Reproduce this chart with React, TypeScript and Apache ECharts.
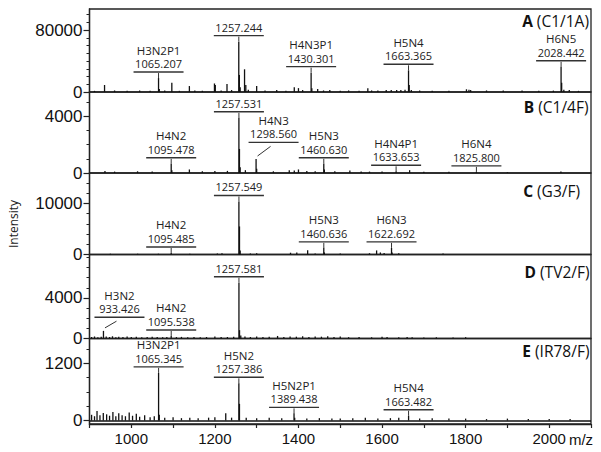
import React, { useEffect, useRef } from 'react';
import * as echarts from 'echarts';

// ---------- data ----------
const MZ_MIN = 900;
const MZ_MAX = 2100;
const X_LABELS = [1000, 1200, 1400, 1600, 1800, 2000];

const PANEL_LETTERS = ['A', 'B', 'C', 'D', 'E'];
const PANEL_SAMPLES = ['(C1/1A)', '(C1/4F)', '(G3/F)', '(TV2/F)', '(IR78/F)'];

const Y_MIN = [0, 0, 0, 0, -73];
const Y_MAX = [107100, 5724, 15980, 8276, 1720];
const Y_TICKS_A = [0, 10000, 20000, 30000, 40000, 50000, 60000, 70000, 80000, 90000, 100000];
const Y_TICKS_B = [0, 1000, 2000, 3000, 4000, 5000];
const Y_TICKS_C = [0, 2000, 4000, 6000, 8000, 10000, 12000, 14000];
const Y_TICKS_D = [0, 1000, 2000, 3000, 4000, 5000, 6000, 7000, 8000];
const Y_TICKS_E = [0, 300, 600, 900, 1200, 1500];
const Y_LABELS_A = [0, 80000];
const Y_LABELS_B = [0, 4000];
const Y_LABELS_C = [0, 10000];
const Y_LABELS_D = [0, 4000];
const Y_LABELS_E = [0, 1200];

// peaks: [m/z, intensity]
const PEAKS_A = [
  [912, 1500], [936, 9000], [960, 2000], [990, 1500], [1020, 1800], [1045, 1500],
  [1065.2, 18000], [1067, 4000], [1080, 1800], [1097, 12000], [1115, 1500], [1139, 7700],
  [1152, 2000], [1170, 1500], [1199, 11000], [1201, 9000], [1215, 2000], [1229, 10300],
  [1240, 2500], [1257.2, 65000], [1258.6, 22000], [1260.5, 6000], [1271, 29300], [1274, 9000],
  [1280, 3000], [1300, 7700], [1320, 2000], [1348, 2500], [1370, 1500], [1390, 6000],
  [1400, 5000], [1410, 2500], [1430.3, 25000], [1432, 5000], [1446, 4000], [1460, 2000],
  [1475, 2500], [1500, 1500], [1520, 2000], [1545, 1500], [1566, 4700], [1575, 2000],
  [1590, 1800], [1610, 2500], [1622, 2500], [1635, 2500], [1645, 2500], [1655, 2800],
  [1663.4, 28000], [1665, 9000], [1670, 2500], [1690, 2000], [1720, 1500], [1760, 1500],
  [1802, 3500], [1808, 3000], [1812, 2500], [1850, 2000], [1890, 1800], [1935, 2000],
  [1975, 1500], [2010, 1800], [2028.4, 32500], [2029.8, 12000], [2035, 3000], [2048, 2500],
  [2070, 1500],
];
const PEAKS_B = [
  [937, 150], [960, 100], [1015, 120], [1050, 100], [1095.5, 650], [1097, 200], [1139, 250],
  [1170, 120], [1200, 150], [1230, 150], [1257.5, 3900], [1258.8, 1700], [1260.5, 400],
  [1273, 200], [1298.6, 990], [1300, 300], [1340, 120], [1378, 200], [1390, 180], [1400, 250],
  [1420, 150], [1440, 120], [1460.6, 650], [1462, 250], [1487, 120], [1523, 180], [1550, 100],
  [1570, 100], [1600, 100], [1633.7, 120], [1666, 200], [1700, 80], [1760, 80], [1825.8, 80],
  [1900, 60], [2028, 100],
];
const PEAKS_C = [
  [950, 150], [1015, 150], [1065, 150], [1095.5, 300], [1140, 150], [1206, 200], [1217, 250],
  [1257.5, 10400], [1258.9, 5500], [1260.5, 800], [1285, 200], [1300, 250], [1381, 350],
  [1396, 400], [1422, 850], [1440, 200], [1460.6, 1300], [1462, 400], [1500, 200], [1570, 250],
  [1587, 800], [1596, 400], [1605, 300], [1622.7, 1300], [1624, 400], [1640, 250], [1746, 200],
];
const PEAKS_D = [
  [905, 150], [912, 200], [920, 120], [928, 180], [933.4, 750], [940, 200], [948, 150],
  [955, 220], [963, 130], [970, 180], [980, 150], [990, 200], [1000, 150], [1012, 180],
  [1025, 130], [1038, 160], [1050, 180], [1062, 150], [1075, 130], [1085, 160], [1095.5, 250],
  [1108, 140], [1120, 160], [1135, 130], [1150, 150], [1165, 120], [1180, 150], [1200, 200],
  [1215, 140], [1230, 150], [1245, 180], [1257.6, 5500], [1259, 820], [1262, 300], [1272, 200],
  [1285, 150], [1300, 200], [1315, 150], [1330, 180], [1350, 250], [1365, 150], [1380, 200],
  [1395, 180], [1410, 220], [1425, 160], [1440, 200], [1455, 180], [1470, 220], [1485, 150],
  [1500, 200], [1520, 130], [1545, 150], [1575, 120], [1600, 180], [1612, 150], [1640, 120],
  [1660, 150], [1672, 120], [1700, 100], [1730, 120], [1770, 100], [1800, 130],
];
const PEAKS_E = [
  [905, 120], [912, 90], [918, 200], [925, 110], [933, 160], [941, 130], [948, 100], [956, 180],
  [963, 90], [970, 150], [978, 110], [986, 90], [995, 170], [1003, 100], [1012, 140], [1020, 80],
  [1032, 110], [1045, 70], [1055, 90], [1065.3, 1000], [1067, 120], [1080, 60], [1100, 70],
  [1120, 50], [1140, 60], [1160, 50], [1185, 60], [1200, 70], [1226, 150], [1240, 60],
  [1257.4, 780], [1258.8, 350], [1275, 60], [1300, 50], [1330, 60], [1360, 50], [1389.4, 150],
  [1391, 60], [1420, 40], [1450, 50], [1480, 40], [1500, 40], [1530, 50], [1560, 60],
  [1590, 40], [1620, 50], [1640, 60], [1663.5, 100], [1690, 40], [1720, 50], [1760, 40],
  [1800, 40], [1850, 30], [1900, 40], [1950, 30], [2000, 30], [2050, 30],
];

// annotated peaks
const ANNOT_A = [
  { mz: 1065.207, name: 'H3N2P1', peak: 18000 },
  { mz: 1257.244, name: '', peak: 65000 },
  { mz: 1430.301, name: 'H4N3P1', peak: 25000 },
  { mz: 1663.365, name: 'H5N4', peak: 28000 },
  { mz: 2028.442, name: 'H6N5', peak: 32500 },
];
const ANNOT_B = [
  { mz: 1095.478, name: 'H4N2', peak: 650 },
  { mz: 1257.531, name: '', peak: 3900 },
  { mz: 1298.56, name: 'H4N3', peak: 990 },
  { mz: 1460.63, name: 'H5N3', peak: 650 },
  { mz: 1633.653, name: 'H4N4P1', peak: 120 },
  { mz: 1825.8, name: 'H6N4', peak: 80 },
];
const ANNOT_C = [
  { mz: 1095.485, name: 'H4N2', peak: 300 },
  { mz: 1257.549, name: '', peak: 10400 },
  { mz: 1460.636, name: 'H5N3', peak: 1300 },
  { mz: 1622.692, name: 'H6N3', peak: 1300 },
];
const ANNOT_D = [
  { mz: 933.426, name: 'H3N2', peak: 750 },
  { mz: 1095.538, name: 'H4N2', peak: 250 },
  { mz: 1257.581, name: '', peak: 5500 },
];
const ANNOT_E = [
  { mz: 1065.345, name: 'H3N2P1', peak: 1000 },
  { mz: 1257.386, name: 'H5N2', peak: 780 },
  { mz: 1389.438, name: 'H5N2P1', peak: 150 },
  { mz: 1663.482, name: 'H5N4', peak: 100 },
];

// ---------- layout ----------
const GRID_LEFT = 89.5;
const GRID_WIDTH = 501.5;
const GRID_TOPS = [9, 92, 173, 254.5, 338.5];
const GRID_HEIGHTS = [83, 81, 81.5, 84, 85.5];
const TITLE_Y = [21, 107, 190.5, 271.5, 351];
const TITLE_RIGHT = [589, 588.5, 580, 589.5, 589.5];
const TITLE_SIZE = 15.5;
const LABEL_GAP = 6;
// oblique leaders: [dx, lift] in px
const OBLIQUE: Record<string, [number, number]> = {
  '1298.560': [17.5, 16.6],
  '933.426': [16, 13.7],
};

const TICK_FONT = '"Liberation Sans", Arial, sans-serif';
const ANN_FONT = '"Open Sans", sans-serif';

const PEAKS = [PEAKS_A, PEAKS_B, PEAKS_C, PEAKS_D, PEAKS_E];
const ANNOTS = [ANNOT_A, ANNOT_B, ANNOT_C, ANNOT_D, ANNOT_E];
const Y_TICKS = [Y_TICKS_A, Y_TICKS_B, Y_TICKS_C, Y_TICKS_D, Y_TICKS_E];
const Y_LABELS = [Y_LABELS_A, Y_LABELS_B, Y_LABELS_C, Y_LABELS_D, Y_LABELS_E];

function stickRenderer(params: any, api: any) {
  const x = api.value(0);
  const y = api.value(1);
  const p0 = api.coord([x, 0]);
  const p1 = api.coord([x, y]);
  return {
    type: 'line',
    shape: { x1: p0[0], y1: p0[1], x2: p1[0], y2: p1[1] },
    style: { stroke: '#111', lineWidth: 1.3 },
  };
}

function annotRenderer(list: any[]) {
  return (params: any, api: any) => {
    const a = list[params.dataIndex];
    const label = a.mz.toFixed(3);
    const top = api.coord([a.mz, a.peak]);
    const off = OBLIQUE[label];
    const cx = top[0] + (off ? off[0] : 0);
    const by = top[1] - (off ? off[1] : LABEL_GAP);
    const children: any[] = [
      {
        type: 'line',
        shape: { x1: cx - 25, y1: by, x2: cx + 25, y2: by },
        style: { stroke: '#333', lineWidth: 1.4 },
      },
      {
        type: 'text',
        x: cx,
        y: by - 8.5,
        style: { text: label, fill: '#222', font: '11px ' + ANN_FONT, align: 'center', verticalAlign: 'middle', lineHeight: 12 },
      },
    ];
    if (a.name) {
      children.push({
        type: 'text',
        x: cx,
        y: by - 22,
        style: { text: a.name, fill: '#222', font: '11.5px ' + ANN_FONT, align: 'center', verticalAlign: 'middle', lineHeight: 12 },
      });
    }
    if (off) {
      children.push({
        type: 'line',
        shape: { x1: cx - 3, y1: by + 4, x2: top[0] + 1.5, y2: top[1] - 3 },
        style: { stroke: '#333', lineWidth: 1 },
      });
    } else if (top[1] - by > 1) {
      children.push({
        type: 'line',
        shape: { x1: cx, y1: by + 1, x2: cx, y2: top[1] },
        style: { stroke: '#333', lineWidth: 1 },
      });
    }
    return { type: 'group', children };
  };
}

function buildOption() {
  const grid: any[] = [];
  const xAxis: any[] = [];
  const yAxis: any[] = [];
  const series: any[] = [];
  for (let i = 0; i < 5; i++) {
    grid.push({
      left: GRID_LEFT,
      width: GRID_WIDTH,
      top: GRID_TOPS[i],
      height: GRID_HEIGHTS[i],
      show: true,
      borderColor: '#222',
      borderWidth: 1.3,
      backgroundColor: 'transparent',
    });
    const isLast = i === 4;
    xAxis.push({
      type: 'value',
      gridIndex: i,
      min: MZ_MIN,
      max: MZ_MAX,
      interval: 100,
      show: isLast,
      position: 'bottom',
      axisLine: { show: true, onZero: false, lineStyle: { color: '#222', width: 1.3 } },
      axisTick: { show: true, length: 4, inside: false, lineStyle: { color: '#222', width: 1.2 } },
      splitLine: { show: false },
      axisLabel: {
        show: isLast,
        margin: 7,
        color: '#111',
        fontFamily: TICK_FONT,
        fontSize: 15,
        formatter: (v: number) => (X_LABELS.indexOf(v) >= 0 ? String(v) : ''),
      },
    });
    // minor ticks axis
    yAxis.push({
      type: 'value',
      gridIndex: i,
      min: Y_MIN[i],
      max: Y_MAX[i],
      position: 'left',
      axisLine: { show: true, onZero: false, lineStyle: { color: '#222', width: 1.3 } },
      axisTick: { show: true, length: 3, customValues: Y_TICKS[i], lineStyle: { color: '#222', width: 1 } },
      axisLabel: { show: false },
      splitLine: { show: false },
    });
    // major ticks + labels axis
    yAxis.push({
      type: 'value',
      gridIndex: i,
      min: Y_MIN[i],
      max: Y_MAX[i],
      position: 'left',
      axisLine: { show: false, onZero: false },
      axisTick: { show: true, length: 6, customValues: Y_LABELS[i], lineStyle: { color: '#222', width: 1.2 } },
      axisLabel: {
        show: true,
        customValues: Y_LABELS[i],
        margin: 7,
        color: '#111',
        fontFamily: TICK_FONT,
        fontSize: 17,
        formatter: (v: number) => String(v),
      },
      splitLine: { show: false },
    });
    const stick: any = {
      type: 'custom',
      xAxisIndex: i,
      yAxisIndex: 2 * i,
      renderItem: stickRenderer,
      encode: { x: 0, y: 1 },
      data: PEAKS[i],
      silent: true,
    };
    if (isLast) {
      stick.markLine = {
        silent: true,
        symbol: 'none',
        label: { show: false },
        lineStyle: { color: '#111', width: 1.6, type: 'solid' },
        data: [{ yAxis: 0 }],
      };
    }
    series.push(stick);
    series.push({
      type: 'custom',
      xAxisIndex: i,
      yAxisIndex: 2 * i,
      renderItem: annotRenderer(ANNOTS[i]),
      encode: { x: 0, y: 1 },
      data: ANNOTS[i].map((a) => [a.mz, a.peak]),
      silent: true,
      z: 5,
    });
  }

  const graphic: any[] = [];
  for (let i = 0; i < 5; i++) {
    graphic.push({
      type: 'text',
      x: TITLE_RIGHT[i],
      y: TITLE_Y[i],
      style: {
        text: '{b|' + PANEL_LETTERS[i] + '}{r| ' + PANEL_SAMPLES[i] + '}',
        font: TITLE_SIZE + 'px ' + ANN_FONT,
        fill: '#111',
        align: 'right',
        verticalAlign: 'middle',
        lineHeight: 16,
        rich: {
          b: { font: 'bold ' + TITLE_SIZE + 'px ' + ANN_FONT, fill: '#111', lineHeight: 16 },
          r: { font: TITLE_SIZE + 'px ' + ANN_FONT, fill: '#111', lineHeight: 16 },
        },
      },
    });
  }
  graphic.push({
    type: 'text',
    x: 13,
    y: 224,
    rotation: Math.PI / 2,
    style: { text: 'Intensity', font: '12px ' + ANN_FONT, fill: '#222', align: 'center', verticalAlign: 'middle' },
  });
  graphic.push({
    type: 'text',
    x: 581,
    y: 439,
    style: { text: 'm/z', font: '15px ' + TICK_FONT, fill: '#111', align: 'center', verticalAlign: 'middle' },
  });

  return { animation: false, backgroundColor: '#fff', grid, xAxis, yAxis, series, graphic };
}

export default function App() {
  const ref = useRef<HTMLDivElement>(null);
  useEffect(() => {
    if (!ref.current) return;
    const chart = echarts.init(ref.current, undefined, { renderer: 'svg' });
    chart.setOption(buildOption() as any);
    return () => chart.dispose();
  }, []);
  return <div ref={ref} style={{ position: 'fixed', left: 0, top: 0, width: 601, height: 452 }} />;
}
